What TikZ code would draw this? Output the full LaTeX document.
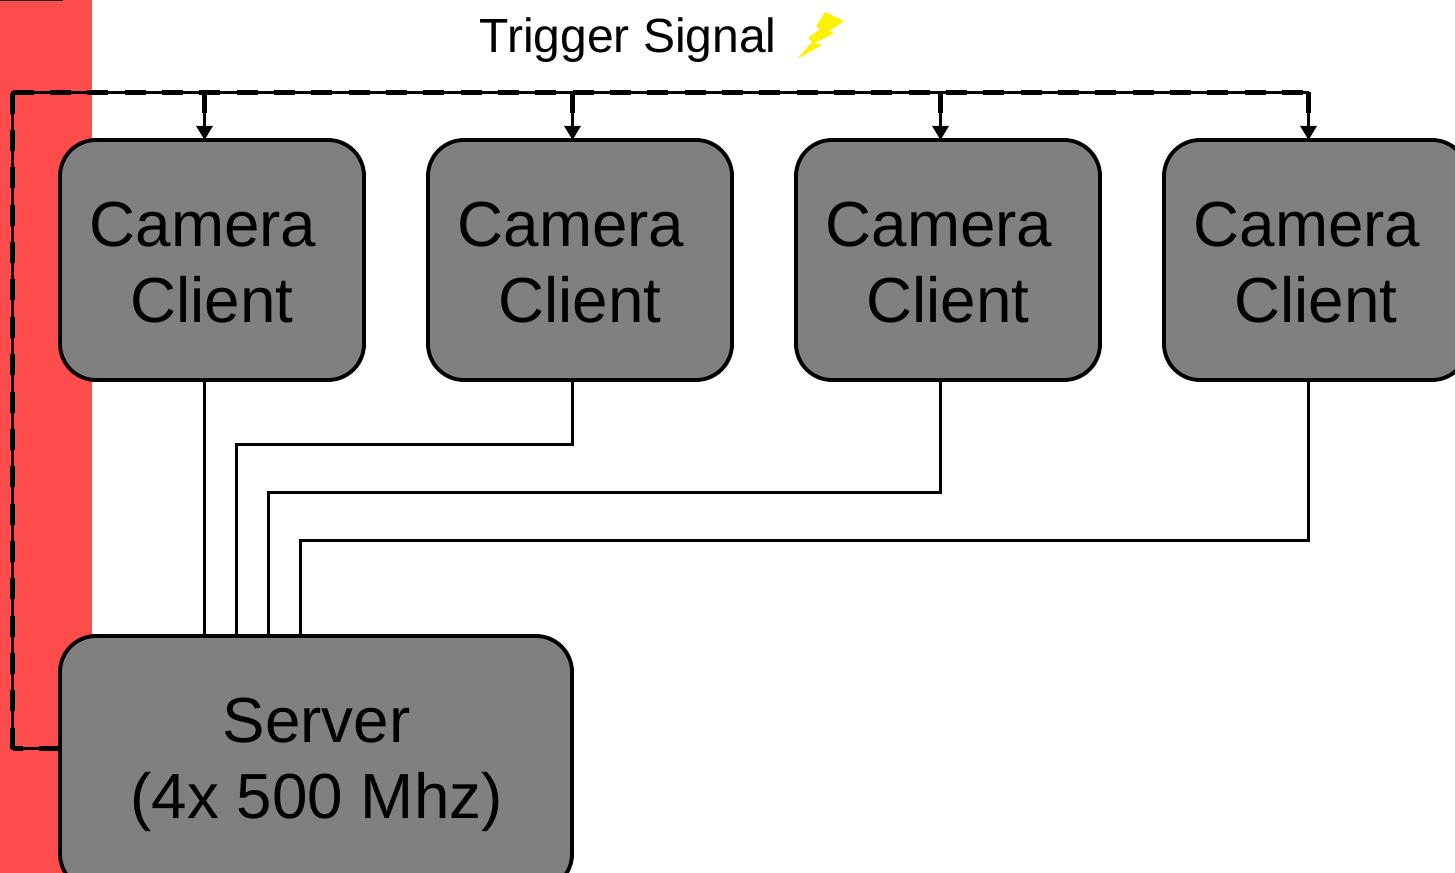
\documentclass[tikz,border=0pt]{standalone}
\usepackage{fontspec}
\setmainfont{Liberation Sans}
\usetikzlibrary{arrows.meta, calc}
\definecolor{barred}{RGB}{255,77,77}
\definecolor{boxgray}{RGB}{128,128,128}
\tikzset{
  unit/.style={draw, fill=boxgray, line width=2.9pt, rounded corners=27pt, inner sep=0pt, outer sep=0pt,
    align=center, font=\fontsize{47.8}{57}\selectfont},
  wire/.style={line width=2.25pt},
  trig/.style={line width=2.25pt},
  trigdash/.style={line width=4.2pt, dash pattern=on 15.75pt off 12.25pt},
  tip/.style={-{Triangle[length=10.5pt,width=12pt]}}
}
\begin{document}
\begin{tikzpicture}[x=0.75pt,y=-0.75pt]
  \useasboundingbox (0,0) rectangle (1455,873);
  \clip (0,0) rectangle (1455,873);
  \fill[barred] (0,0) rectangle (92,873);
  \fill[black!85] (0,0) rectangle (63,1);

  \node[font=\fontsize{36}{43}\selectfont] (trigger) at (628,40) {Trigger Signal};
  \fill[yellow] (825,12) -- (844,21) -- (829,31) -- (834,33) -- (815,43) -- (822,45) -- (797,59)
    -- (812,42) -- (808,38) -- (820,29) -- (816,26) -- cycle;

  % camera clients
  \foreach \n/\cx in {1/212,2/580,3/948,4/1316}
    \node[unit, minimum width=228pt, minimum height=180pt] (client\n) at (\cx,260)
      {\rule{0pt}{36.5pt}Camera\hspace*{13.5pt}\\Client};
  \node[unit, minimum width=384pt, minimum height=190.5pt] (server) at (316,763)
    {\rule{0pt}{36pt}\hspace*{1pt}Server\\\hspace*{1pt}(4x 500 Mhz)};

  % image lines
  \coordinate (up1) at (204.5,636);
  \coordinate (up2) at (236.5,636);
  \coordinate (up3) at (268.5,636);
  \coordinate (up4) at (300.5,636);
  \coordinate (c1) at (204.5,380);
  \coordinate (c2) at (572.5,380);
  \coordinate (c3) at (940.5,380);
  \coordinate (c4) at (1308.5,380);
  \draw[wire] (c1) -- (up1);
  \draw[wire] (c2) |- (0,444.5 -| up2) -- (up2);
  \draw[wire] (c3) |- (0,492.5 -| up3) -- (up3);
  \draw[wire] (c4) |- (0,540.5 -| up4) -- (up4);

  % trigger bus
  \coordinate (tl) at (12.5,92.5);
  \coordinate (tr) at (1308.5,92.5);
  \coordinate (bl) at (12.5,748.5);
  \draw[trig, line join=miter] (server.west |- bl) -- (bl) -- (tl) -- (tr);
  \draw[trigdash] (bl) -- (tl);
  \draw[trigdash] (tl) -- (tr);
  \draw[trigdash, dash phase=8.25pt] (bl) -- (server.west |- bl);
  \foreach \n/\tx in {1/204.5,2/572.5,3/940.5,4/1308.5}{
    \coordinate (t\n) at (\tx,92.5);
    \draw[trig, tip] (t\n) -- (t\n |- client\n.north);
    \draw[line width=4.2pt] (t\n) -- ++(0,21);}
\end{tikzpicture}
\end{document}
